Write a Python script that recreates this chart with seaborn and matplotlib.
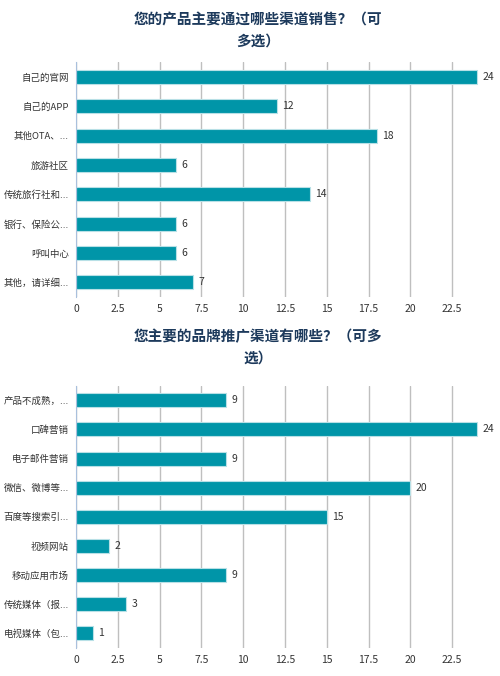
import matplotlib
matplotlib.use("Agg")
import matplotlib.pyplot as plt
import seaborn as sns
import pandas as pd
import numpy as np

# 图1：销售渠道
sales_labels = ["自己的官网", "自己的APP", "其他OTA、...", "旅游社区", "传统旅行社和...",
                "银行、保险公...", "呼叫中心", "其他，请详细..."]
sales_counts = [24, 12, 18, 6, 14, 6, 6, 7]
sales_title = "您的产品主要通过哪些渠道销售？（可\n多选）"

# 图2：品牌推广渠道
promo_labels = ["产品不成熟，...", "口碑营销", "电子邮件营销", "微信、微博等...", "百度等搜索引...",
                "视频网站", "移动应用市场", "传统媒体（报...", "电视媒体（包..."]
promo_counts = [9, 24, 9, 20, 15, 2, 9, 3, 1]
promo_title = "您主要的品牌推广渠道有哪些？（可多\n选）"

xticks = [0, 2.5, 5, 7.5, 10, 12.5, 15, 17.5, 20, 22.5]

sns.set_style("white")
plt.rcParams["font.family"] = ["Noto Sans CJK SC", "DejaVu Sans"]

bar_color = "#0095a8"
text_color = "#333333"
title_color = "#1d3a5c"
spine_color = "#a9c0dd"

fig = plt.figure(figsize=(5, 6.76), dpi=100)
ax1 = fig.add_axes([0.152, 0.5607, 0.836, 0.347])
ax2 = fig.add_axes([0.152, 0.0414, 0.836, 0.388])


def draw(ax, labels, counts):
    df = pd.DataFrame({"label": labels, "count": counts})
    sns.barplot(data=df, y="label", x="count", orient="h", ax=ax, color=bar_color,
                width=0.48, edgecolor="#b8e0e6", linewidth=0.8, saturation=1)
    ax.set_xlim(0, 25)
    ax.set_ylim(len(labels) - 0.5, -0.5)
    ax.set_xticks(xticks)
    ax.set_xticklabels([f"{t:g}" for t in xticks], fontsize=7.5, color=text_color)
    ax.tick_params(axis="y", labelsize=6.8, labelcolor=text_color, length=0, pad=5)
    ax.tick_params(axis="x", length=0, pad=5)
    ax.set_yticks(np.arange(len(labels) + 1) - 0.5, minor=True)
    ax.tick_params(axis="y", which="minor", length=4, color=spine_color, width=0.8)
    ax.grid(axis="x", color="#bfbfbf", linewidth=1)
    ax.set_axisbelow(True)
    for s in ["top", "right", "bottom"]:
        ax.spines[s].set_visible(False)
    ax.spines["left"].set_color(spine_color)
    ax.spines["left"].set_linewidth(0.8)
    ax.set_xlabel("")
    ax.set_ylabel("")
    for i, v in enumerate(counts):
        ax.text(v + 0.3, i, str(v), va="center", ha="left", fontsize=7.5, color=text_color)


draw(ax1, sales_labels, sales_counts)
draw(ax2, promo_labels, promo_counts)

fig.text(0.516, 0.955, sales_title, ha="center", va="center", fontsize=10.5,
         fontweight="bold", color=title_color, linespacing=1.4)
fig.text(0.516, 0.487, promo_title, ha="center", va="center", fontsize=10.5,
         fontweight="bold", color=title_color, linespacing=1.4)

fig.savefig("out.png", dpi=100)
